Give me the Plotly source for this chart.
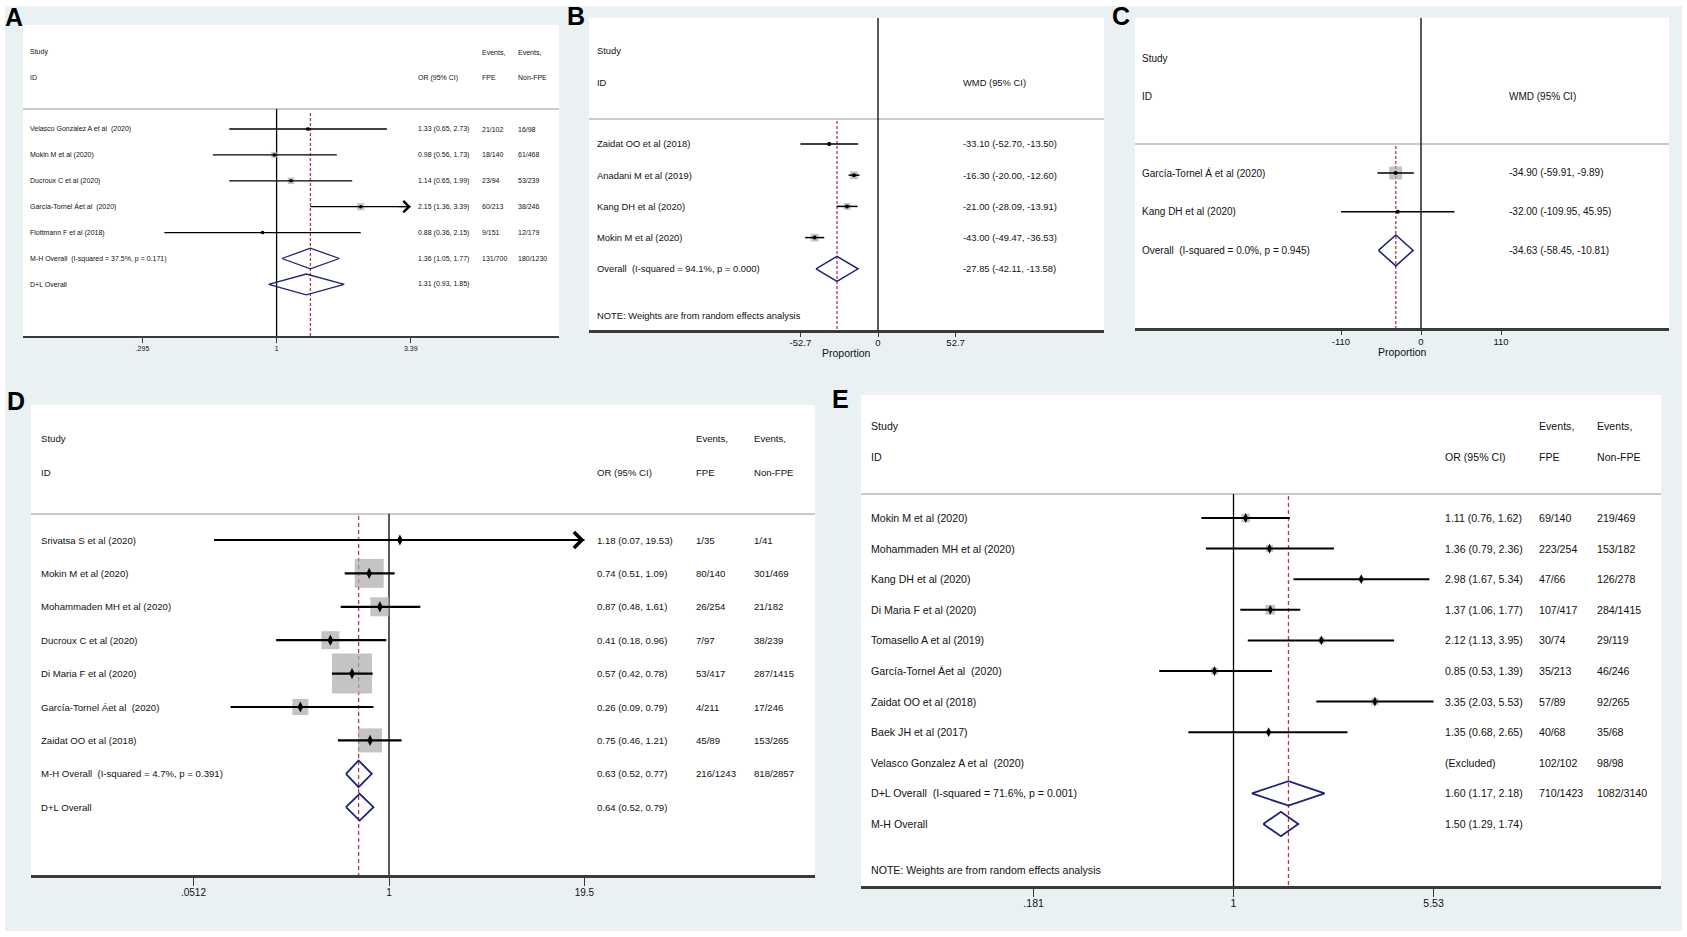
import numpy as np
import plotly.graph_objects as go

W, H = 1687, 937
FONT = "Liberation Sans, Arial, Helvetica, sans-serif"

# ======================= DATA =======================
# Panel A (OR, log scale)
A_study = ["Velasco Gonzalez A et al  (2020)", "Mokin M et al (2020)", "Ducroux C et al (2020)",
           "García-Tornel Áet al  (2020)", "Flottmann F et al (2018)"]
A_est = [1.33, 0.98, 1.14, 2.15, 0.88]
A_lo = [0.65, 0.56, 0.65, 1.36, 0.36]
A_hi = [2.73, 1.73, 1.99, 3.39, 2.15]
A_weight = [10.5, 23.7, 27.6, 32.2, 5.9]
A_arrow = [False, False, False, True, False]
A_fpe = ["21/102", "18/140", "23/94", "60/213", "9/151"]
A_nonfpe = ["16/98", "61/468", "53/239", "38/246", "12/179"]
A_ov_label = ["M-H Overall  (I-squared = 37.5%, p = 0.171)", "D+L Overall"]
A_ov_est = [1.36, 1.31]
A_ov_lo = [1.05, 0.93]
A_ov_hi = [1.77, 1.85]
A_ov_fpe = ["131/700", ""]
A_ov_nonfpe = ["180/1230", ""]
A_ticks = [0.295, 1, 3.39]
A_ticktext = [".295", "1", "3.39"]

# Panel B (WMD, linear)
B_study = ["Zaidat OO et al (2018)", "Anadani M et al (2019)", "Kang DH et al (2020)", "Mokin M et al (2020)"]
B_est = [-33.10, -16.30, -21.00, -43.00]
B_lo = [-52.70, -20.00, -28.09, -49.47]
B_hi = [-13.50, -12.60, -13.91, -36.53]
B_weight = [8.3, 33.2, 25.4, 33.2]
B_arrow = [False, False, False, False]
B_ov_label = ["Overall  (I-squared = 94.1%, p = 0.000)"]
B_ov_est = [-27.85]
B_ov_lo = [-42.11]
B_ov_hi = [-13.58]
B_ticks = [-52.7, 0, 52.7]
B_ticktext = ["-52.7", "0", "52.7"]

# Panel C (WMD, linear)
C_study = ["García-Tornel Á et al (2020)", "Kang DH et al (2020)"]
C_est = [-34.90, -32.00]
C_lo = [-59.91, -109.95]
C_hi = [-9.89, 45.95]
C_weight = [95.0, 5.0]
C_arrow = [False, False]
C_ov_label = ["Overall  (I-squared = 0.0%, p = 0.945)"]
C_ov_est = [-34.63]
C_ov_lo = [-58.45]
C_ov_hi = [-10.81]
C_ticks = [-110, 0, 110]
C_ticktext = ["-110", "0", "110"]

# Panel D (OR, log scale)
D_study = ["Srivatsa S et al (2020)", "Mokin M et al (2020)", "Mohammaden MH et al (2020)",
           "Ducroux C et al (2020)", "Di Maria F et al (2020)", "García-Tornel Áet al  (2020)",
           "Zaidat OO et al (2018)"]
D_est = [1.18, 0.74, 0.87, 0.41, 0.57, 0.26, 0.75]
D_lo = [0.07, 0.51, 0.48, 0.18, 0.42, 0.09, 0.46]
D_hi = [19.53, 1.09, 1.61, 0.96, 0.78, 0.79, 1.21]
D_weight = [0.2, 21.2, 9.1, 8.2, 40.3, 6.5, 14.5]
D_arrow = [True, False, False, False, False, False, False]
D_fpe = ["1/35", "80/140", "26/254", "7/97", "53/417", "4/211", "45/89"]
D_nonfpe = ["1/41", "301/469", "21/182", "38/239", "287/1415", "17/246", "153/265"]
D_ov_label = ["M-H Overall  (I-squared = 4.7%, p = 0.391)", "D+L Overall"]
D_ov_est = [0.63, 0.64]
D_ov_lo = [0.52, 0.52]
D_ov_hi = [0.77, 0.79]
D_ov_fpe = ["216/1243", ""]
D_ov_nonfpe = ["818/2857", ""]
D_ticks = [0.0512, 1, 19.5]
D_ticktext = [".0512", "1", "19.5"]

# Panel E (OR, log scale)
E_study = ["Mokin M et al (2020)", "Mohammaden MH et al (2020)", "Kang DH et al (2020)",
           "Di Maria F et al (2020)", "Tomasello A et al (2019)", "García-Tornel Áet al  (2020)",
           "Zaidat OO et al (2018)", "Baek JH et al (2017)"]
E_est = [1.11, 1.36, 2.98, 1.37, 2.12, 0.85, 3.35, 1.35]
E_lo = [0.76, 0.79, 1.67, 1.06, 1.13, 0.53, 2.03, 0.68]
E_hi = [1.62, 2.36, 5.34, 1.77, 3.95, 1.39, 5.53, 2.65]
E_weight = [18.5, 12.6, 6.4, 23.1, 9.2, 12.6, 12.6, 5.1]
E_arrow = [False] * 8
E_fpe = ["69/140", "223/254", "47/66", "107/417", "30/74", "35/213", "57/89", "40/68"]
E_nonfpe = ["219/469", "153/182", "126/278", "284/1415", "29/119", "46/246", "92/265", "35/68"]
E_excl_label = ["Velasco Gonzalez A et al  (2020)"]
E_excl_fpe = ["102/102"]
E_excl_nonfpe = ["98/98"]
E_ov_label = ["D+L Overall  (I-squared = 71.6%, p = 0.001)", "M-H Overall"]
E_ov_est = [1.60, 1.50]
E_ov_lo = [1.17, 1.29]
E_ov_hi = [2.18, 1.74]
E_ov_fpe = ["710/1423", ""]
E_ov_nonfpe = ["1082/3140", ""]
E_ticks = [0.181, 1, 5.53]
E_ticktext = [".181", "1", "5.53"]

NOTE_TEXT = "NOTE: Weights are from random effects analysis"

# ======================= LAYOUT HELPERS =======================
fig = go.Figure()
shapes, annotations = [], []
layout_axes = {}


def px_x(x):
    return x / W


def px_y(y):
    return 1 - y / H


# overall light background
shapes.append(dict(type="rect", xref="paper", yref="paper", x0=px_x(5), x1=px_x(1682),
                   y0=px_y(931), y1=px_y(6), fillcolor="#E9F1F3", line_width=0, layer="below"))


def fmt_ci(e, l, h):
    return f"{e:.2f} ({l:.2f}, {h:.2f})"


def add_panel(k, g, studies, est, lo, hi, wts, arrows, study_cols,
              ov_label, ov_est, ov_lo, ov_hi, ov_cols, ticks, ticktext,
              excl=None):
    xr = "x" if k == 1 else f"x{k}"
    yr = "y" if k == 1 else f"y{k}"
    xa = "xaxis" if k == 1 else f"xaxis{k}"
    ya = "yaxis" if k == 1 else f"yaxis{k}"
    x0, top, x1, bot = g["white"]
    log = g["log"]

    shapes.append(dict(type="rect", xref="paper", yref="paper", x0=px_x(x0), x1=px_x(x1),
                       y0=px_y(bot), y1=px_y(top), fillcolor="white", line_width=0, layer="below"))
    shapes.append(dict(type="line", xref="paper", yref="paper", x0=px_x(x0), x1=px_x(x1),
                       y0=px_y(g["grey"]), y1=px_y(g["grey"]),
                       line=dict(color="#CACACA", width=2), layer="below"))

    r0 = (x0 - g["null_px"]) / g["ppu"]
    r1 = (x1 - g["null_px"]) / g["ppu"]
    yb = (bot - g["row0"]) / g["dy"]
    yt = (top - g["row0"]) / g["dy"]

    def yv(p):
        return (p - g["row0"]) / g["dy"]

    layout_axes[xa] = dict(domain=[px_x(x0), px_x(x1)], range=[r0, r1],
                           type="log" if log else "linear", anchor=yr,
                           showline=True, linecolor="#3A3A3A", linewidth=g["axis_w"],
                           ticks="outside", ticklen=g["ticklen"], tickwidth=1.4, tickcolor="#3A3A3A",
                           tickmode="array", tickvals=ticks, ticktext=ticktext,
                           tickfont=dict(family=FONT, size=g["tick_font"], color="#111"),
                           ticklabelstandoff=g["standoff"],
                           showgrid=False, zeroline=False, fixedrange=True)
    layout_axes[ya] = dict(domain=[px_y(bot), px_y(top)], range=[yb, yt], visible=False,
                           anchor=xr, fixedrange=True)

    null_val = 1 if log else 0
    # null line
    fig.add_trace(go.Scatter(x=[null_val, null_val], y=[yv(g["null_top"]), yb], mode="lines",
                             line=dict(color="black", width=1.3), xaxis=xr, yaxis=yr,
                             hoverinfo="skip", showlegend=False))
    # overall reference (red dashed)
    fig.add_trace(go.Scatter(x=[ov_est[0], ov_est[0]], y=[yv(g["red_top"]), yb], mode="lines",
                             line=dict(color="#B8383B", width=1.3, dash=g["dash"]),
                             xaxis=xr, yaxis=yr, hoverinfo="skip", showlegend=False))

    n = len(studies)
    rows = list(range(n))
    # weight boxes
    fig.add_trace(go.Scatter(x=est, y=rows, mode="markers",
                             marker=dict(symbol="square", color="#ABABAB",
                                         size=[g["box_k"] * np.sqrt(w) for w in wts], line_width=0),
                             xaxis=xr, yaxis=yr, hoverinfo="skip", showlegend=False))
    # CI lines (clipped to outer ticks)
    lx, ly = [], []
    for i in rows:
        l = max(lo[i], ticks[0])
        h = min(hi[i], ticks[-1])
        lx += [l, h, None]
        ly += [i, i, None]
    fig.add_trace(go.Scatter(x=lx, y=ly, mode="lines", line=dict(color="black", width=g["ci_w"]),
                             xaxis=xr, yaxis=yr, hoverinfo="skip", showlegend=False))
    # point estimates
    fig.add_trace(go.Scatter(x=est, y=rows, mode="markers",
                             marker=dict(symbol=g["pt_sym"], color="black", size=g["pt_size"], line_width=0),
                             xaxis=xr, yaxis=yr, hoverinfo="skip", showlegend=False))
    # arrows for truncated CIs
    for i in rows:
        if arrows[i]:
            xv = min(hi[i], ticks[-1])
            annotations.append(dict(x=np.log10(xv) if log else xv, y=i, xref=xr, yref=yr, text="",
                                    showarrow=True, ax=-14, ay=0, arrowhead=4,
                                    arrowsize=g["arrow_size"], arrowwidth=g["arrow_w"], arrowcolor="black",
                                    standoff=0))

    # overall diamonds
    off = n + (len(excl[0]) if excl else 0)
    dx, dyy = [], []
    for j in range(len(ov_est)):
        r = off + j
        dx += [ov_lo[j], ov_est[j], ov_hi[j], ov_est[j], ov_lo[j], None]
        dyy += [r, r - 0.4, r, r + 0.4, r, None]
    fig.add_trace(go.Scatter(x=dx, y=dyy, mode="lines", line=dict(color="#1C2277", width=g["dia_w"]),
                             xaxis=xr, yaxis=yr, hoverinfo="skip", showlegend=False))

    # text
    fs = g["font"]
    cols = g["cols"]

    def txt(s, xpx, yval, yref=yr, size=fs):
        annotations.append(dict(text=s, x=px_x(xpx), y=yval, xref="paper", yref=yref,
                                xanchor="left", yanchor="middle", showarrow=False,
                                font=dict(family=FONT, size=size, color="#111")))

    for i in rows:
        txt(studies[i], cols[0], i)
        txt(fmt_ci(est[i], lo[i], hi[i]), cols[1], i)
        for c, colvals in enumerate(study_cols):
            txt(colvals[i], cols[2 + c], i)
    if excl:
        labels, ecols = excl[0], excl[1:]
        for j, lab in enumerate(labels):
            r = n + j
            txt(lab, cols[0], r)
            txt("(Excluded)", cols[1], r)
            for c, colvals in enumerate(ecols):
                txt(colvals[j], cols[2 + c], r)
    for j in range(len(ov_est)):
        r = off + j
        txt(ov_label[j], cols[0], r)
        txt(fmt_ci(ov_est[j], ov_lo[j], ov_hi[j]), cols[1], r)
        for c, colvals in enumerate(ov_cols):
            if colvals[j]:
                txt(colvals[j], cols[2 + c], r)

    for s, xpx, ypx in g["headers"]:
        txt(s, xpx, px_y(ypx), yref="paper")
    if g.get("note_y"):
        txt(NOTE_TEXT, cols[0], px_y(g["note_y"]), yref="paper")
    if g.get("xtitle_y"):
        annotations.append(dict(text="Proportion", x=px_x((x0 + x1) / 2), y=px_y(g["xtitle_y"]),
                                xref="paper", yref="paper", xanchor="center", yanchor="middle",
                                showarrow=False, font=dict(family=FONT, size=g["tick_font"] + 1, color="#111")))
    lx0, ly0 = g["letter"]
    annotations.append(dict(text="<b>" + g["name"] + "</b>", x=px_x(lx0), y=px_y(ly0), xref="paper",
                            yref="paper", xanchor="left", yanchor="top", showarrow=False,
                            font=dict(family=FONT, size=25, color="black")))


# ======================= PANELS =======================
geomA = dict(name="A", white=(23, 25, 559, 336), grey=109, row0=129, dy=25.9, null_px=276.6, ppu=253,
             log=True, font=7, tick_font=7, ticklen=5, standoff=0, axis_w=2, ci_w=1.3, dia_w=1.3,
             pt_sym="circle", pt_size=3.5, box_k=1.25, arrow_size=2.2, arrow_w=1.0, dash="3px,2px",
             null_top=109, red_top=113, cols=[27.5, 416, 480, 515.5],
             headers=[("Study", 27.5, 52), ("ID", 27.5, 78), ("OR (95% CI)", 416, 78),
                      ("Events,", 480, 52), ("FPE", 480, 78), ("Events,", 515.5, 52), ("Non-FPE", 515.5, 78)],
             letter=(3, 1))
add_panel(1, geomA, A_study, A_est, A_lo, A_hi, A_weight, A_arrow, [A_fpe, A_nonfpe],
          A_ov_label, A_ov_est, A_ov_lo, A_ov_hi, [A_ov_fpe, A_ov_nonfpe], A_ticks, A_ticktext)

geomB = dict(name="B", white=(589, 18, 1104, 330), grey=119, row0=144, dy=31.2, null_px=878, ppu=1.4725,
             log=False, font=9.4, tick_font=9.5, ticklen=4, standoff=-2, axis_w=2.5, ci_w=1.5, dia_w=1.5,
             pt_sym="circle", pt_size=4, box_k=1.35, arrow_size=1.6, arrow_w=1.0, dash="3px,2px",
             null_top=18, red_top=121, cols=[595, 961],
             headers=[("Study", 595, 51), ("ID", 595, 82), ("WMD (95% CI)", 961, 82)],
             note_y=315, xtitle_y=353, letter=(565, 0))
add_panel(2, geomB, B_study, B_est, B_lo, B_hi, B_weight, B_arrow, [],
          B_ov_label, B_ov_est, B_ov_lo, B_ov_hi, [], B_ticks, B_ticktext)

geomC = dict(name="C", white=(1135, 18, 1669, 328), grey=144, row0=173, dy=38.7, null_px=1421, ppu=0.7273,
             log=False, font=10, tick_font=9.5, ticklen=4, standoff=-1, axis_w=2.5, ci_w=1.5, dia_w=1.5,
             pt_sym="circle", pt_size=4, box_k=1.33, arrow_size=1.6, arrow_w=1.0, dash="3px,2px",
             null_top=18, red_top=146, cols=[1140, 1507],
             headers=[("Study", 1140, 58), ("ID", 1140, 96), ("WMD (95% CI)", 1507, 96)],
             xtitle_y=352, letter=(1110, 0))
add_panel(3, geomC, C_study, C_est, C_lo, C_hi, C_weight, C_arrow, [],
          C_ov_label, C_ov_est, C_ov_lo, C_ov_hi, [], C_ticks, C_ticktext)

geomD = dict(name="D", white=(31, 405, 815, 875), grey=514, row0=540, dy=33.4, null_px=389, ppu=151.5,
             log=True, font=9.6, tick_font=10, ticklen=8, standoff=-2, axis_w=3, ci_w=2.2, dia_w=1.8,
             pt_sym="diamond-tall", pt_size=8, box_k=6.3, arrow_size=2.6, arrow_w=1.2, dash="4px,3px",
             null_top=514, red_top=516, cols=[39, 594.5, 694, 752],
             headers=[("Study", 39, 439), ("ID", 39, 472), ("OR (95% CI)", 594.5, 472),
                      ("Events,", 694, 439), ("FPE", 694, 472), ("Events,", 752, 439), ("Non-FPE", 752, 472)],
             letter=(5, 385))
add_panel(4, geomD, D_study, D_est, D_lo, D_hi, D_weight, D_arrow, [D_fpe, D_nonfpe],
          D_ov_label, D_ov_est, D_ov_lo, D_ov_hi, [D_ov_fpe, D_ov_nonfpe], D_ticks, D_ticktext)

geomE = dict(name="E", white=(861, 395, 1661, 886), grey=494, row0=518, dy=30.6, null_px=1233.5, ppu=269.3,
             log=True, font=10.6, tick_font=10.5, ticklen=8, standoff=-3, axis_w=3, ci_w=2.0, dia_w=1.8,
             pt_sym="diamond-tall", pt_size=7, box_k=2.0, arrow_size=2.6, arrow_w=1.2, dash="4px,3px",
             null_top=494, red_top=496, cols=[869, 1443, 1537, 1595],
             headers=[("Study", 869, 426), ("ID", 869, 457), ("OR (95% CI)", 1443, 457),
                      ("Events,", 1537, 426), ("FPE", 1537, 457), ("Events,", 1595, 426), ("Non-FPE", 1595, 457)],
             note_y=870, letter=(830, 383))
add_panel(5, geomE, E_study, E_est, E_lo, E_hi, E_weight, E_arrow, [E_fpe, E_nonfpe],
          E_ov_label, E_ov_est, E_ov_lo, E_ov_hi, [E_ov_fpe, E_ov_nonfpe], E_ticks, E_ticktext,
          excl=[E_excl_label, E_excl_fpe, E_excl_nonfpe])

fig.update_layout(width=W, height=H, margin=dict(l=0, r=0, t=0, b=0),
                  paper_bgcolor="white", plot_bgcolor="rgba(0,0,0,0)",
                  showlegend=False, shapes=shapes, annotations=annotations,
                  font=dict(family=FONT, color="#111"), **layout_axes)

fig.write_html("out.html", config={"displayModeBar": False},
               post_script="document.body.style.margin='0';")
